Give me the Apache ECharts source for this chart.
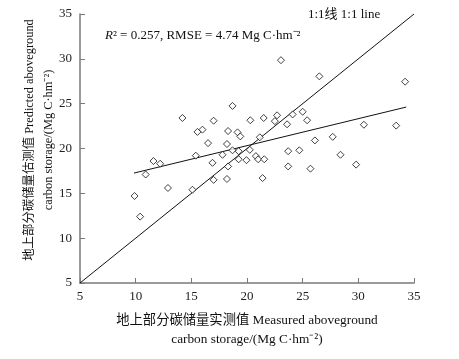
<!DOCTYPE html>
<html>
<head>
<meta charset="utf-8">
<script src="https://cdn.jsdelivr.net/npm/echarts@6/dist/echarts.min.js"></script>
<style>
  html, body { margin: 0; padding: 0; background: #fff; }
  #chart { width: 459px; height: 359px; }
</style>
</head>
<body>
<div id="chart"></div>
<script>
// measured (x) and predicted (y) aboveground carbon storage
var measured = [9.9, 10.4, 10.9, 11.6, 12.2, 12.9, 14.2, 15.1, 15.4, 15.55,
  16.0, 16.5, 16.9, 17.0, 17.0, 17.8, 18.2, 18.2, 18.3, 18.3,
  18.7, 18.7, 19.15, 19.25, 19.25, 19.4, 19.95, 20.25, 20.3, 20.8,
  21.0, 21.15, 21.4, 21.5, 21.55, 22.5, 22.7, 23.05, 23.6, 23.7,
  23.7, 24.1, 24.7, 25.0, 25.4, 25.7, 26.1, 26.5, 27.7, 28.4,
  29.8, 30.5, 33.4, 34.2];
var predicted = [14.7, 12.4, 17.1, 18.6, 18.3, 15.6, 23.4, 15.4, 19.2, 21.85,
  22.1, 20.6, 18.4, 23.1, 16.5, 19.3, 16.6, 20.5, 18.0, 21.95,
  24.75, 19.8, 21.8, 19.7, 18.8, 21.35, 18.7, 19.85, 23.15, 19.15,
  18.8, 21.25, 16.7, 23.4, 18.8, 23.05, 23.7, 29.85, 22.7, 19.7,
  18.0, 23.8, 19.8, 24.1, 23.15, 17.75, 20.9, 28.05, 21.3, 19.3,
  18.2, 22.65, 22.55, 27.45];
// fitted regression line ends
var fitX = [9.85, 34.3];
var fitY = [17.26, 24.62];
// 1:1 line ends
var oneX = [5, 35];
var oneY = [5, 35];
var ticks = [5, 10, 15, 20, 25, 30, 35];

var serif = "'Liberation Serif', 'Times New Roman', 'Noto Sans CJK SC', serif";
var axisGray = '#7a7a7a';

function pairs(xs, ys) {
  var out = [];
  for (var i = 0; i < xs.length; i++) out.push([xs[i], ys[i]]);
  return out;
}

var chart = echarts.init(document.getElementById('chart'));
var axisCommon = {
  type: 'value',
  min: ticks[0],
  max: ticks[ticks.length - 1],
  interval: 5,
  axisLine: { show: true, lineStyle: { color: axisGray, width: 1.5 } },
  axisTick: { show: true, inside: true, length: 5, lineStyle: { color: axisGray } },
  splitLine: { show: false },
  axisLabel: { color: '#222', fontFamily: serif, fontSize: 13 }
};

chart.setOption({
  animation: false,
  backgroundColor: '#fff',
  grid: { left: 80, right: 45, top: 14, bottom: 76 },
  xAxis: Object.assign({}, axisCommon, {
    axisLabel: Object.assign({}, axisCommon.axisLabel, { margin: 7 })
  }),
  yAxis: Object.assign({}, axisCommon, {
    axisLabel: Object.assign({}, axisCommon.axisLabel, { margin: 8 })
  }),
  graphic: [
    {
      type: 'text', left: 105, top: 29,
      style: {
        text: '{it|R}² = 0.257, RMSE = 4.74 Mg C·hm⁻²',
        font: '13px ' + serif, fill: '#111',
        rich: { it: { fontStyle: 'italic', fontFamily: serif, fontSize: 13 } }
      }
    },
    {
      type: 'text', left: 308, top: 8,
      style: { text: '1:1线 1:1 line', font: '13px ' + serif, fill: '#111' }
    },
    {
      type: 'text', x: 247, y: 330,
      style: {
        text: '地上部分碳储量实测值 Measured aboveground\ncarbon storage/(Mg C·hm⁻²)',
        font: '13.3px ' + serif, fill: '#111', align: 'center', verticalAlign: 'middle',
        lineHeight: 19
      }
    },
    {
      type: 'text', x: 39, y: 140, rotation: Math.PI / 2,
      style: {
        text: '地上部分碳储量估测值 Predicted aboveground\ncarbon storage/(Mg C·hm⁻²)',
        font: '12.4px ' + serif, fill: '#111', align: 'center', verticalAlign: 'middle',
        lineHeight: 19
      }
    }
  ],
  series: [
    {
      type: 'line',
      data: pairs(oneX, oneY),
      symbol: 'none',
      lineStyle: { color: '#111', width: 1 },
      z: 2
    },
    {
      type: 'line',
      data: pairs(fitX, fitY),
      symbol: 'none',
      lineStyle: { color: '#111', width: 1 },
      z: 2
    },
    {
      type: 'scatter',
      data: pairs(measured, predicted),
      symbol: 'diamond',
      symbolSize: 7,
      itemStyle: { color: '#fff', borderColor: '#111', borderWidth: 1 },
      z: 3
    }
  ]
});
</script>
</body>
</html>
